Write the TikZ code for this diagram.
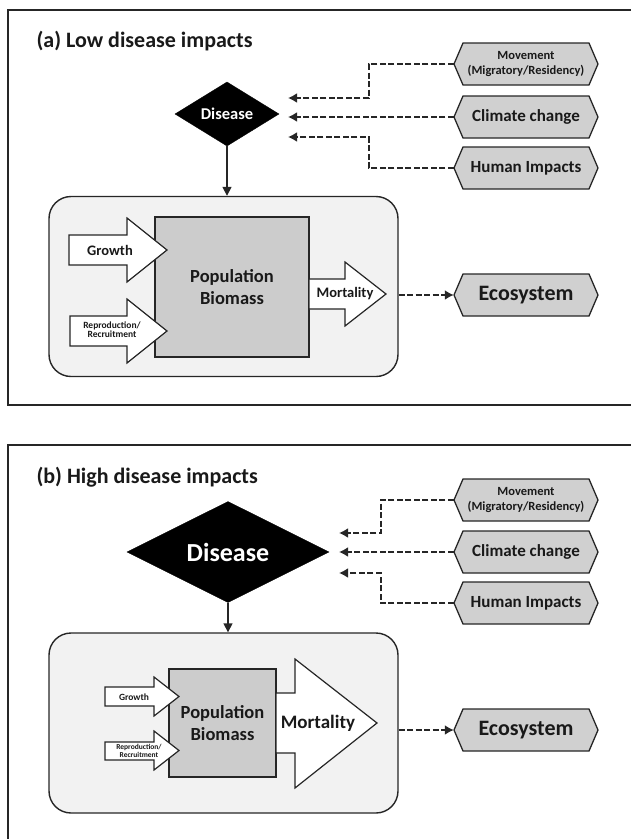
\documentclass[tikz,border=0pt]{standalone}
\usepackage{fontspec}
\setmainfont{Carlito}
\usetikzlibrary{shapes.geometric,arrows.meta}
\definecolor{lineC}{HTML}{262626}
\definecolor{boxC}{HTML}{F2F2F2}
\definecolor{popC}{HTML}{CCCCCC}
\definecolor{hexC}{HTML}{D0D0D0}
\newcommand\myhexnode[5]{%
  \filldraw[hexline] ({#2-72},#3) -- ({#2-63},{#3-21}) -- ({#2+63},{#3-21}) -- ({#2+72},#3) -- ({#2+63},{#3+21}) -- ({#2-63},{#3+21}) -- cycle;
  \node[hexbox,font=#4] (#1) at (#2,#3) {#5};}
\begin{document}
\begin{tikzpicture}[x=1pt,y=-1pt,
  frame/.style={draw=lineC,line width=1.4pt},
  titletext/.style={anchor=west,font=\bfseries\fontsize{22}{26}\selectfont,text=black!90},
  hexline/.style={draw=lineC,fill=hexC,line width=1.3pt,line join=miter},
  hexbox/.style={rectangle,draw=none,minimum width=144,minimum height=42,inner sep=0pt,align=center,text=black!90},
  dis/.style={diamond,fill=black,draw=black,inner sep=0pt,text=white,font=\bfseries},
  outerbox/.style={rectangle,rounded corners=22pt,draw=lineC,fill=boxC,line width=1.4pt},
  poprect/.style={rectangle,draw=lineC,fill=popC,line width=1.4pt,align=center,inner sep=0pt,text=black!90},
  blockarrow/.style={draw=lineC,fill=white,line width=1.2pt,line join=miter},
  lbl/.style={inner sep=0pt,align=center,text=black!90},
  dasharrow/.style={draw=lineC,line width=2.4pt,dash pattern=on 6pt off 2.5pt,-{Latex[length=9pt,width=10pt]}},
  solidarrow/.style={draw=lineC,line width=1.6pt,-{Triangle[length=9pt,width=9pt]}}
]
\useasboundingbox (0,0) rectangle (630,839);
% ---------------- panel (a)
\draw[frame] (8,10) rectangle (636,405);
\node[titletext] (ta) at (33,41) {(a) Low disease impacts};
\myhexnode{mova}{526}{64}{\bfseries\fontsize{12.5}{15}\selectfont}{Movement\\(Migratory/Residency)}
\myhexnode{clia}{526}{117}{\bfseries\fontsize{17}{20}\selectfont}{Climate change}
\myhexnode{huma}{526}{168}{\bfseries\fontsize{17}{20}\selectfont}{Human Impacts}
\node[dis,minimum width=104,minimum height=46,font=\bfseries\fontsize{16.5}{19}\selectfont] (da) at (227,114) {Disease};
\coordinate (ma) at (288,98);
\coordinate (ca) at (288,117);
\coordinate (ha) at (288,137);
\draw[dasharrow] (mova.west) -- ++(-85,0) |- (ma);
\draw[dasharrow] (clia.west) -- (ca);
\draw[dasharrow] (huma.west) -- ++(-85,0) |- (ha);
\node[outerbox,minimum width=349,minimum height=180] (boxa) at (223.5,286.5) {};
\draw[solidarrow] (da.south) -- (da.south |- boxa.north);
\node[poprect,minimum width=154,minimum height=140,font=\bfseries\fontsize{18.5}{22}\selectfont] (popa) at (232,287) {Population\\Biomass};
\draw[blockarrow] (69,235) -- (127,235) -- (127,218) -- (167,250) -- (127,282) -- (127,265) -- (69,265) -- cycle;
\draw[blockarrow] (70,316) -- (127,316) -- (127,299) -- (167,331) -- (127,363) -- (127,346) -- (70,346) -- cycle;
\draw[blockarrow] (309,279) -- (345,279) -- (345,262) -- (386,294) -- (345,326) -- (345,309) -- (309,309) -- cycle;
\node[lbl,font=\bfseries\fontsize{14.5}{17}\selectfont] (ga) at (110,250) {Growth};
\node[lbl,font=\bfseries\fontsize{9.5}{8}\selectfont] (ra) at (112,330) {Reproduction/\\Recruitment};
\node[lbl,font=\bfseries\fontsize{14.5}{17}\selectfont] (mta) at (345,294) {Mortality};
\myhexnode{ecoa}{526}{295}{\bfseries\fontsize{22}{26}\selectfont}{Ecosystem}
\draw[dasharrow] (ecoa.west -| boxa.east) -- (ecoa.west);
% ---------------- panel (b)
\draw[frame] (8,445) rectangle (636,850);
\node[titletext] (tb) at (33,477) {(b) High disease impacts};
\myhexnode{movb}{526}{500}{\bfseries\fontsize{12.5}{15}\selectfont}{Movement\\(Migratory/Residency)}
\myhexnode{clib}{526}{552}{\bfseries\fontsize{17}{20}\selectfont}{Climate change}
\myhexnode{humb}{526}{603}{\bfseries\fontsize{17}{20}\selectfont}{Human Impacts}
\node[dis,minimum width=202,minimum height=90,font=\bfseries\fontsize{26}{30}\selectfont] (db) at (228,552) {Disease};
\coordinate (mb) at (339,533);
\coordinate (cb) at (339,552);
\coordinate (hb) at (339,573);
\draw[dasharrow] (movb.west) -- ++(-73,0) |- (mb);
\draw[dasharrow] (clib.west) -- (cb);
\draw[dasharrow] (humb.west) -- ++(-73,0) |- (hb);
\node[outerbox,minimum width=349,minimum height=180] (boxb) at (223.5,723) {};
\draw[solidarrow] (db.south) -- (db.south |- boxb.north);
\node[poprect,minimum width=107,minimum height=108,font=\bfseries\fontsize{18.5}{22}\selectfont] (popb) at (222.5,723) {Population\\Biomass};
\draw[blockarrow] (105,687) -- (154,687) -- (154,677) -- (179,696.5) -- (154,716) -- (154,706) -- (105,706) -- cycle;
\draw[blockarrow] (105,742) -- (154,742) -- (154,731) -- (179,750.5) -- (154,770) -- (154,760) -- (105,760) -- cycle;
\draw[blockarrow] (276,693) -- (295,693) -- (295,659) -- (377,723) -- (295,788) -- (295,753) -- (276,753) -- cycle;
\node[lbl,font=\bfseries\fontsize{9.5}{11}\selectfont] (gb) at (134,697) {Growth};
\node[lbl,font=\bfseries\fontsize{7.5}{8}\selectfont] (rb) at (139,751) {Reproduction/\\Recruitment};
\node[lbl,font=\bfseries\fontsize{19}{22}\selectfont] (mtb) at (318,723) {Mortality};
\myhexnode{ecob}{526}{730}{\bfseries\fontsize{22}{26}\selectfont}{Ecosystem}
\draw[dasharrow] (ecob.west -| boxb.east) -- (ecob.west);
\end{tikzpicture}
\end{document}
